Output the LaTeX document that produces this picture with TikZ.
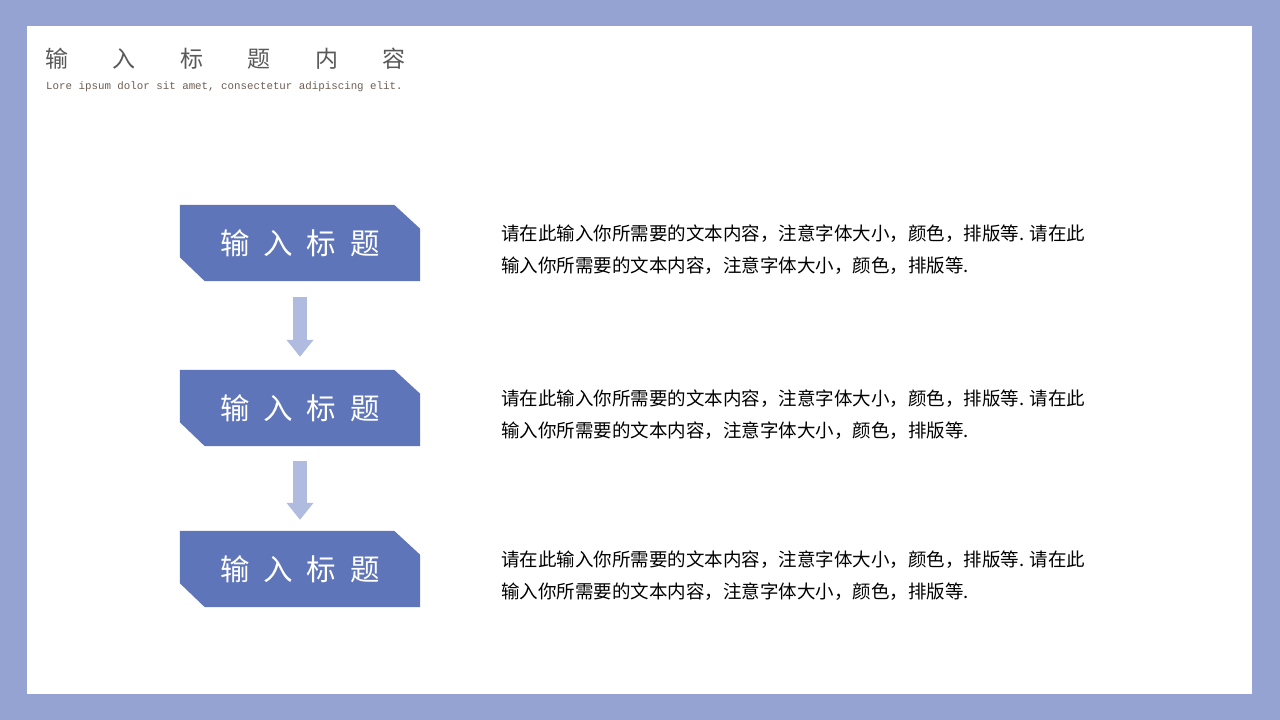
\documentclass[tikz,border=0pt]{standalone}
\usepackage{fontspec}
\setmainfont{Liberation Sans}
\newfontfamily\cjk{Noto Sans CJK SC}
\newfontfamily\monof{Liberation Mono}
\usetikzlibrary{arrows.meta,calc}
\definecolor{bgframe}{HTML}{94A3D2}
\definecolor{boxblue}{HTML}{5E75B9}
\definecolor{arrowblue}{HTML}{B0BBE0}
\definecolor{titlegray}{HTML}{595959}
\definecolor{subgray}{HTML}{6E5E54}
\begin{document}
\begin{tikzpicture}[x=1pt,y=-1pt,
  titlechar/.style={text=titlegray,font=\cjk\fontsize{23}{23}\selectfont,inner sep=0pt},
  boxnode/.style={minimum width=240pt,minimum height=76pt,inner sep=0pt,text=white,
    font=\cjk\fontsize{29.5}{29.5}\selectfont},
  desc/.style={anchor=west,align=left,inner sep=0pt,text=black,
    font=\cjk\fontsize{18.5}{32}\selectfont},
  blockarrow/.style={arrowblue,line width=14pt,-{Triangle[width=26pt,length=17pt]}}
]
\useasboundingbox (0,0) rectangle (1280,720);
\fill[bgframe] (0,0) rectangle (1280,720);
\fill[white] (27,26) rectangle (1252,694);

% title
\foreach \c [count=\i from 0] in {输,入,标,题,内,容}{
  \node[titlechar] (t\i) at ({57+67.4*\i},59) {\c};
}
\node[anchor=west,inner sep=0pt,text=subgray,font=\monof\fontsize{10.8}{12}\selectfont] (sub) at (46,86.5)
  {Lore ipsum dolor sit amet, consectetur adipiscing elit.};

% boxes
\foreach \n/\y in {1/243,2/408,3/569}{
  \node[boxnode] (b\n) at (300,\y) {};
  \fill[boxblue] (b\n.north west) -- ([xshift=-26pt]b\n.north east) -- ([yshift=-24pt]b\n.north east)
     -- (b\n.south east) -- ([xshift=25pt]b\n.south west) -- ([yshift=24pt]b\n.south west) -- cycle;
  \node[boxnode] (l\n) at (b\n.center) {输\hspace{14pt}入\hspace{14pt}标\hspace{14pt}题};
}

% arrows
\draw[blockarrow] ([yshift=-16pt]b1.south) -- ([yshift=13pt]b2.north);
\draw[blockarrow] ([yshift=-15pt]b2.south) -- ([yshift=11pt]b3.north);

% descriptions
\foreach \n/\y in {1/249.5,2/414.5,3/575.5}{
  \node[desc] (d\n) at (501,\y) {请在此输入你所需要的文本内容，注意字体大小，颜色，排版等. 请在此\\输入你所需要的文本内容，注意字体大小，颜色，排版等.};
}
\end{tikzpicture}
\end{document}
